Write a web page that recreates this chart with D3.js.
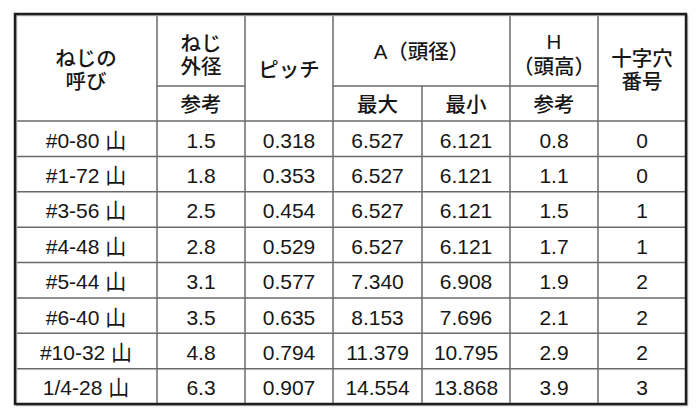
<!DOCTYPE html>
<html>
<head>
<meta charset="utf-8">
<script src="https://cdn.jsdelivr.net/npm/d3@7"></script>
<style>
  body { margin: 0; background: #fff; }
  svg { display: block; }
</style>
</head>
<body>
<svg id="chart" width="700" height="420"></svg>
<script>
// table values
const sizeNames = ['#0-80 山', '#1-72 山', '#3-56 山', '#4-48 山', '#5-44 山', '#6-40 山', '#10-32 山', '1/4-28 山']
const outerDia = [1.5, 1.8, 2.5, 2.8, 3.1, 3.5, 4.8, 6.3]
const pitch = [0.318, 0.353, 0.454, 0.529, 0.577, 0.635, 0.794, 0.907]
const headDiaMax = [6.527, 6.527, 6.527, 6.527, 7.340, 8.153, 11.379, 14.554]
const headDiaMin = [6.121, 6.121, 6.121, 6.121, 6.908, 7.696, 10.795, 13.868]
const headHeight = [0.8, 1.1, 1.5, 1.7, 1.9, 2.1, 2.9, 3.9]
const crossNo = [0, 0, 1, 1, 2, 2, 2, 3]

const f1 = d3.format('.1f'), f3 = d3.format('.3f'), f0 = d3.format('d')
const columns = [
    { values: sizeNames, fmt: d => d },
    { values: outerDia, fmt: f1 },
    { values: pitch, fmt: f3 },
    { values: headDiaMax, fmt: f3 },
    { values: headDiaMin, fmt: f3 },
    { values: headHeight, fmt: f1 },
    { values: crossNo, fmt: f0 }
]

// layout
const colWidths = [142, 88, 88, 89, 88, 88, 88]
const tLeft = 15, tTop = 14, midY = 86, headBottom = 121, tBottom = 404
const edges = [tLeft, ...d3.cumsum(colWidths).map(d => d + tLeft)]
const tRight = edges[edges.length - 1]
const fontFamily = '"Liberation Sans", Arial, "Noto Sans CJK JP", sans-serif'
const textColour = '#161616'

const svg = d3.select('#chart')
const y = d3.scaleBand().domain(d3.range(sizeNames.length)).range([headBottom, tBottom])
const cx = i => (edges[i] + edges[i + 1]) / 2

const addText = (x, yc, lines, gap = 23) => {
    const t = svg.append('text')
        .attr('text-anchor', 'middle')
        .attr('font-family', fontFamily)
        .attr('font-size', 20.5)
        .attr('font-weight', 500)
        .attr('fill', textColour)
    lines.forEach((line, k) => {
        t.append('tspan')
            .attr('x', x)
            .attr('y', yc + (k - (lines.length - 1) / 2) * gap)
            .attr('dominant-baseline', 'central')
            .text(line)
    })
}

// header
const topMid = (tTop + midY) / 2 + 1, subMid = (midY + headBottom) / 2 + 1, fullMid = (tTop + headBottom) / 2 + 2
addText(cx(0), fullMid, ['ねじの', '呼び'])
addText(cx(1), topMid + 4, ['ねじ', '外径'])
addText(cx(1), subMid, ['参考'])
addText(cx(2), fullMid, ['ピッチ'])
addText((edges[3] + edges[5]) / 2, topMid, ['A（頭径）'])
addText(cx(3), subMid, ['最大'])
addText(cx(4), subMid, ['最小'])
addText(cx(5), topMid + 3, ['H', '（頭高）'], 25)
addText(cx(5), subMid, ['参考'])
addText(cx(6), fullMid, ['十字穴', '番号'])

// body cells
columns.forEach((col, i) => {
    svg.append('g')
        .selectAll('text')
        .data(col.values)
        .join('text')
        .attr('x', cx(i))
        .attr('y', (d, r) => y(r) + y.bandwidth() / 2 + 1.5)
        .attr('text-anchor', 'middle')
        .attr('dominant-baseline', 'central')
        .attr('font-family', fontFamily)
        .attr('font-size', 21)
        .attr('fill', textColour)
        .text(col.fmt)
})

// grid lines
const grid = svg.append('g').attr('stroke', '#6a6a6a').attr('stroke-width', 1.5).attr('fill', 'none')
// row separators
grid.selectAll('.row-line')
    .data(d3.range(1, sizeNames.length))
    .join('line')
    .attr('x1', tLeft).attr('x2', tRight)
    .attr('y1', d => y(d)).attr('y2', d => y(d))
grid.append('line').attr('x1', tLeft).attr('x2', tRight).attr('y1', headBottom).attr('y2', headBottom)
// header middle line, under columns 1, 3-5
grid.append('line').attr('x1', edges[1]).attr('x2', edges[2]).attr('y1', midY).attr('y2', midY)
grid.append('line').attr('x1', edges[3]).attr('x2', edges[6]).attr('y1', midY).attr('y2', midY)
// column separators
grid.selectAll('.col-line')
    .data(d3.range(1, edges.length - 1))
    .join('line')
    .attr('x1', d => edges[d]).attr('x2', d => edges[d])
    .attr('y1', d => d === 4 ? midY : tTop)
    .attr('y2', tBottom)

// outer frame with a faint shadow
svg.append('rect')
    .attr('x', tLeft + 1.5).attr('y', tTop + 1.5)
    .attr('width', tRight - tLeft).attr('height', tBottom - tTop)
    .attr('fill', 'none').attr('stroke', '#bbb').attr('stroke-width', 1.5)
svg.append('rect')
    .attr('x', tLeft).attr('y', tTop)
    .attr('width', tRight - tLeft).attr('height', tBottom - tTop)
    .attr('fill', 'none').attr('stroke', '#1e1e1e').attr('stroke-width', 2.5)
</script>
</body>
</html>
